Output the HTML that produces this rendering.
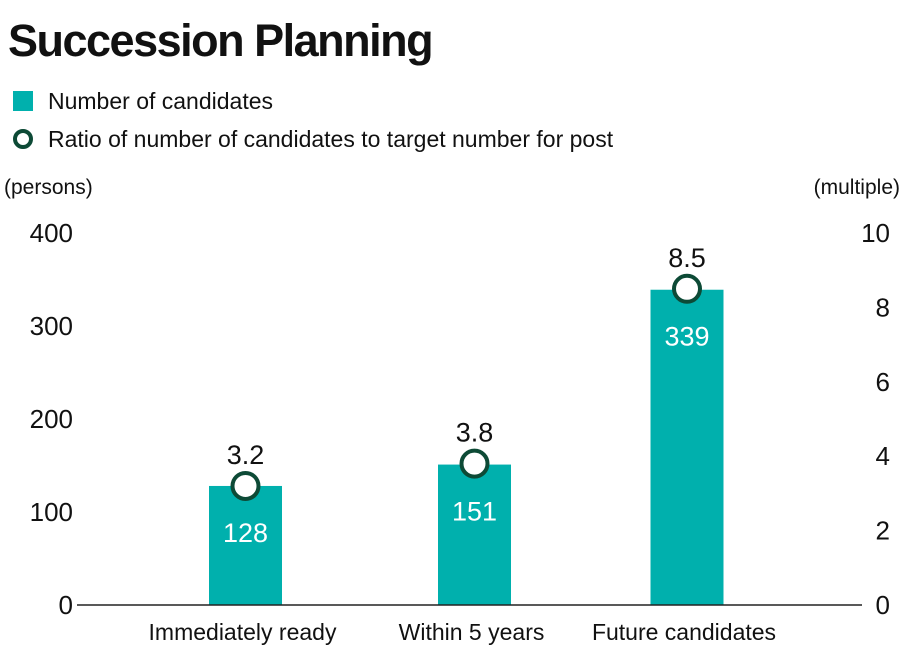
<!DOCTYPE html>
<html><head><meta charset="utf-8"><style>
body{margin:0;background:#fff;}
svg text{font-family:"Liberation Sans",sans-serif;fill:#111;}
</style></head><body>
<svg width="906" height="660" xmlns="http://www.w3.org/2000/svg">
<text x="8" y="56" font-size="45" font-weight="bold" letter-spacing="-1.5">Succession Planning</text>
<rect x="13" y="91" width="20" height="20" fill="#00b0ad"/>
<text x="48" y="109" font-size="23">Number of candidates</text>
<circle cx="23" cy="139" r="8" fill="#fff" stroke="#0d4a36" stroke-width="4"/>
<text x="48" y="147" font-size="23">Ratio of number of candidates to target number for post</text>
<text x="4" y="194" font-size="21">(persons)</text>
<text x="900" y="194" font-size="21" text-anchor="end">(multiple)</text>
<g id="plot"></g>
</svg>
<script>
const categories=["Immediately ready","Within 5 years","Future candidates"];
const candidates=[128,151,339];
const ratios=[3.2,3.8,8.5];
const leftTicks=[0,100,200,300,400];
const rightTicks=[0,2,4,6,8,10];
const NS="http://www.w3.org/2000/svg";
const g=document.getElementById('plot');
const y0=605,yTop=233;
const yL=v=>y0-(v/400)*(y0-yTop);
const yR=v=>y0-(v/10)*(y0-yTop);
const xC=i=>[245.5,474.5,687][i];
function mk(t,a,txt){const e=document.createElementNS(NS,t);for(const k in a)e.setAttribute(k,a[k]);if(txt!==undefined)e.textContent=txt;g.appendChild(e);return e;}
leftTicks.forEach(v=>{const e=mk('text',{x:73,y:yL(v)+9,'font-size':26,'text-anchor':'end'},v);

});
rightTicks.forEach(v=>{const e=mk('text',{x:890,y:yR(v)+9,'font-size':26,'text-anchor':'end'},v);

});
categories.forEach((c,i)=>{
const b=mk('rect',{x:xC(i)-36.5,y:yL(candidates[i]),width:73,height:y0-yL(candidates[i]),fill:'#00b0ad'});


const l=mk('text',{x:xC(i),y:yL(candidates[i])+56,'font-size':27,'text-anchor':'middle',style:'fill:#fff'},candidates[i]);


const cl=mk('text',{x:xC(i)-3,y:640,'font-size':23,'text-anchor':'middle'},c);


});
const ax=mk('line',{x1:77,x2:862,y1:y0,y2:y0,stroke:'#222','stroke-width':1.5});


ratios.forEach((r,i)=>{
const c=mk('circle',{cx:xC(i),cy:yR(r),r:13,fill:'#fff',stroke:'#0d4a36','stroke-width':4});


const t=mk('text',{x:xC(i),y:yR(r)-22,'font-size':27,'text-anchor':'middle'},r.toFixed(1));


});
</script>
</body></html>
